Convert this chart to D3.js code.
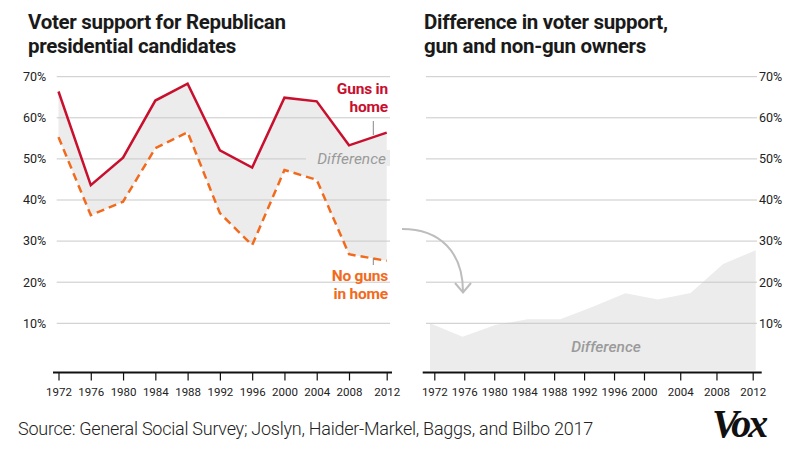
<!DOCTYPE html>
<html>
<head>
<meta charset="utf-8">
<script src="https://cdn.jsdelivr.net/npm/d3@7"></script>
<style>
  html, body { margin: 0; padding: 0; background: #fff; }
  svg { display: block; font-family: Roboto, "Noto Sans", sans-serif; }
</style>
</head>
<body>
<svg id="chart" width="800" height="453"></svg>
<script>
// ---- data ----
const years = [1972, 1976, 1980, 1984, 1988, 1992, 1996, 2000, 2004, 2008, 2012];
const gunsInHome   = [66.4, 43.6, 50.3, 64.2, 68.3, 52.1, 47.9, 64.9, 64.0, 53.3, 56.4];
const noGunsInHome = [55.3, 36.3, 39.6, 52.6, 56.5, 36.8, 29.0, 47.3, 44.9, 26.8, 25.2];
const difference   = [10.0, 6.7, 9.6, 11.0, 11.0, 14.0, 17.3, 15.8, 17.4, 24.4, 27.8];
const tickYears = [1972, 1976, 1980, 1984, 1988, 1992, 1996, 2000, 2004, 2008, 2012];
const yTicks = [10, 20, 30, 40, 50, 60, 70];
const leftTitle = ["Voter support for Republican", "presidential candidates"];
const rightTitle = ["Difference in voter support,", "gun and non-gun owners"];
const gunsLabel = ["Guns in", "home"];
const noGunsLabel = ["No guns", "in home"];
const sourceText = "Source: General Social Survey; Joslyn, Haider-Markel, Baggs, and Bilbo 2017";

const RED = "#c8102e", ORANGE = "#f26a1b", FILL = "#ececec", GRID = "#c9c9c9", INK = "#222";
const svg = d3.select("#chart");

const axisY = 372.5;
const y = d3.scaleLinear().domain([0, 70]).range([364.4, 76.7]);

// ---- titles ----
function title(lines, x) {
  lines.forEach((l, i) => svg.append("text").attr("x", x).attr("y", 28.5 + i * 24)
    .attr("font-size", 20.5).attr("font-weight", 700).attr("fill", "#1a1a1a")
    .attr("letter-spacing", -0.3).text(l));
}
title(leftTitle, 28);
title(rightTitle, 424);

// ---- left chart ----
const xL = d3.scaleLinear().domain([1972, 2008, 2012]).range([58.5, 349, 386.7]);
const left = svg.append("g");
const pts = years.map((yr, i) => ({ yr, g: gunsInHome[i], n: noGunsInHome[i] }));

left.append("path").datum(pts)
  .attr("d", d3.area().x(d => xL(d.yr)).y0(d => y(d.n)).y1(d => y(d.g)))
  .attr("fill", FILL);

left.selectAll(".grid").data(yTicks).join("line")
  .attr("x1", 56.7).attr("x2", 390)
  .attr("y1", d => y(d)).attr("y2", d => y(d))
  .attr("stroke", GRID).attr("stroke-width", 1);

left.selectAll(".ylab").data(yTicks).join("text")
  .attr("x", 23).attr("y", d => y(d)).attr("dy", "0.35em")
  .attr("font-size", 12.5).attr("fill", INK).text(d => d + "%");

// "Difference" label knockout
left.append("rect").attr("x", 306).attr("y", y(50) - 9).attr("width", 84).attr("height", 16).attr("fill", FILL);
left.append("text").attr("x", 386).attr("y", 164).attr("text-anchor", "end")
  .attr("font-size", 15.5).attr("font-style", "italic").attr("fill", "#9a9a9a").text("Difference");

left.append("path").datum(pts)
  .attr("d", d3.line().x(d => xL(d.yr)).y(d => y(d.n)))
  .attr("fill", "none").attr("stroke", ORANGE).attr("stroke-width", 2.5)
  .attr("stroke-dasharray", "8,5");
left.append("path").datum(pts)
  .attr("d", d3.line().x(d => xL(d.yr)).y(d => y(d.g)))
  .attr("fill", "none").attr("stroke", RED).attr("stroke-width", 2.5)
  .attr("stroke-linejoin", "miter");

// annotations
left.append("line").attr("x1", 373.3).attr("x2", 373.3).attr("y1", 121).attr("y2", 135)
  .attr("stroke", "#888").attr("stroke-width", 1);
gunsLabel.forEach((l, i) => left.append("text").attr("x", 388).attr("y", 94 + i * 18)
  .attr("text-anchor", "end").attr("font-size", 15.5).attr("font-weight", 700)
  .attr("fill", RED).attr("letter-spacing", -0.2).text(l));

left.append("line").attr("x1", 373.3).attr("x2", 373.3).attr("y1", 258).attr("y2", 265)
  .attr("stroke", "#888").attr("stroke-width", 1);
noGunsLabel.forEach((l, i) => left.append("text").attr("x", 388).attr("y", 281 + i * 18)
  .attr("text-anchor", "end").attr("font-size", 15.5).attr("font-weight", 700)
  .attr("fill", ORANGE).attr("letter-spacing", -0.2).text(l));

// left x axis
const axL = left.append("g").attr("transform", `translate(0,${axisY})`)
  .call(d3.axisBottom(xL).tickValues(tickYears).tickFormat(d3.format("d")).tickSize(8).tickSizeOuter(0));
axL.select(".domain").remove();
axL.selectAll(".tick line").attr("stroke", "#111").attr("stroke-width", 1.2);
axL.selectAll(".tick text").attr("font-size", 11.5).attr("fill", INK).attr("font-family", "Roboto").attr("dy", "1.05em");
left.append("line").attr("x1", 53).attr("x2", 392).attr("y1", axisY).attr("y2", axisY)
  .attr("stroke", "#111").attr("stroke-width", 2);

// ---- right chart ----
const xR = d3.scaleLinear().domain([1972, 2012]).range([430, 755.7]);
const xRticks = d3.scaleLinear().domain([1972, 2000, 2012]).range([434.3, 644, 752.7]);
const right = svg.append("g");
const dpts = years.map((yr, i) => ({ yr, v: difference[i] }));

right.append("path").datum(dpts)
  .attr("d", d3.area().x(d => xR(d.yr)).y0(axisY - 2).y1(d => y(d.v)))
  .attr("fill", FILL);

right.selectAll(".grid").data(yTicks).join("line")
  .attr("x1", 426).attr("x2", 757)
  .attr("y1", d => y(d)).attr("y2", d => y(d))
  .attr("stroke", GRID).attr("stroke-width", 1);

right.selectAll(".ylab").data(yTicks).join("text")
  .attr("x", 759).attr("y", d => y(d)).attr("dy", "0.35em")
  .attr("font-size", 12.5).attr("fill", INK).text(d => d + "%");

right.append("text").attr("x", 606).attr("y", 352).attr("text-anchor", "middle")
  .attr("font-size", 15.5).attr("font-style", "italic").attr("font-weight", 500)
  .attr("fill", "#9a9a9a").text("Difference");

const axR = right.append("g").attr("transform", `translate(0,${axisY})`)
  .call(d3.axisBottom(xRticks).tickValues(tickYears).tickFormat(d3.format("d")).tickSize(8).tickSizeOuter(0));
axR.select(".domain").remove();
axR.selectAll(".tick line").attr("stroke", "#111").attr("stroke-width", 1.2);
axR.selectAll(".tick text").attr("font-size", 11.5).attr("fill", INK).attr("font-family", "Roboto").attr("dy", "1.05em");
right.append("line").attr("x1", 422.7).attr("x2", 761.7).attr("y1", axisY).attr("y2", axisY)
  .attr("stroke", "#111").attr("stroke-width", 2);

// ---- arrow ----
svg.append("path").attr("d", "M402,229 C440,229 463,252 463,292")
  .attr("fill", "none").attr("stroke", "#bdbdbd").attr("stroke-width", 2);
svg.append("path").attr("d", "M455,283 L463,292.5 L471,283")
  .attr("fill", "none").attr("stroke", "#bdbdbd").attr("stroke-width", 2);

// ---- source + logo ----
svg.append("text").attr("x", 18).attr("y", 435).attr("font-size", 18)
  .attr("font-weight", 300).attr("fill", "#222").attr("letter-spacing", -0.25).text(sourceText);
svg.append("text").attr("x", 712).attr("y", 437).attr("font-family", "'Liberation Serif', serif")
  .attr("font-size", 40).attr("font-weight", 700).attr("font-style", "italic")
  .attr("letter-spacing", -3).attr("fill", "#111").text("Vox");
</script>
</body>
</html>
